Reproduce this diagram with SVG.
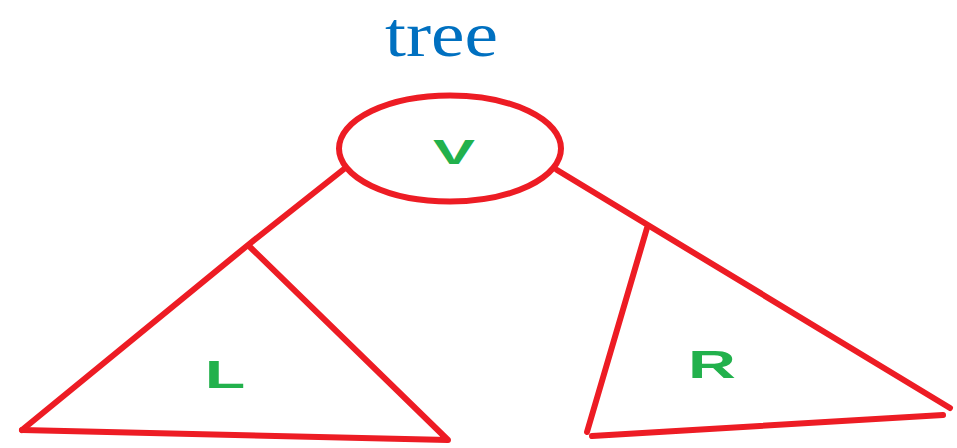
<svg xmlns="http://www.w3.org/2000/svg" width="957" height="448" viewBox="0 0 957 448">
<style>
.ln{fill:none;stroke:#ed1c24;stroke-width:6;stroke-linecap:round;stroke-linejoin:round}
.lbl{font-family:"Liberation Sans",Arial,sans-serif;font-weight:bold;fill:#22b14c}
</style>
<rect width="957" height="448" fill="#fff"/>
<text x="385" y="56" font-family="Liberation Serif,serif" font-size="63" fill="#0070c0" textLength="113" lengthAdjust="spacingAndGlyphs">tree</text>
<g id="connectors">
<path class="ln" d="M344,169 L248,245 L22,430"/>
<path class="ln" d="M557,170 L950,408"/>
</g>
<g id="node-V">
<ellipse class="ln" cx="450" cy="148.5" rx="111" ry="53" stroke-width="7"/>
<text class="lbl" font-size="36" transform="translate(454,164) scale(1.75,1)" text-anchor="middle">V</text>
</g>
<g id="node-L">
<path class="ln" d="M22,430 L448,440 L250,247"/>
<text class="lbl" font-size="39" transform="translate(225,388) scale(1.7,1)" text-anchor="middle">L</text>
</g>
<g id="node-R">
<path class="ln" d="M647,228 L587,432 M592,436 L943,415"/>
<text class="lbl" font-size="39" transform="translate(712,378) scale(1.7,1)" text-anchor="middle">R</text>
</g>
</svg>
